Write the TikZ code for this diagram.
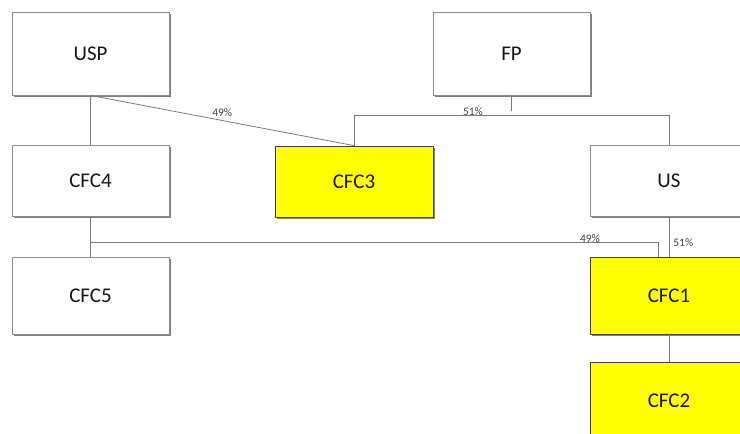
\documentclass[tikz,border=0pt]{standalone}
\usepackage{fontspec}
\setmainfont{Carlito}
\usetikzlibrary{shadows}
\definecolor{linkgray}{HTML}{7A7A7A}
\definecolor{boxgray}{HTML}{8C8C8C}
\definecolor{cfcyellow}{HTML}{FFFF00}
\definecolor{txtgray}{HTML}{151515}
\tikzset{
  entity/.style={draw=boxgray, fill=white, line width=0.8bp, text=txtgray,
    font=\fontsize{21}{25}\selectfont, inner sep=0pt,
    drop shadow={shadow xshift=1.8bp, shadow yshift=-1.8bp, fill=black!55, opacity=0.9}},
  cfc/.style={entity, draw=black!75, fill=cfcyellow},
  link/.style={draw=linkgray, line width=0.8bp},
  pct/.style={font=\fontsize{11.5}{13}\selectfont, text=black!75, inner sep=1bp}
}
\begin{document}
\begin{tikzpicture}[x=1bp, y=-1bp]
% Ownership chart, one unit = one pixel of the reference
\def\boxw{157bp}
\clip (0,0) rectangle (740,434);
\fill[white] (0,0) rectangle (740,434);
% Entities
\node[entity, minimum width=\boxw, minimum height=83bp] (usp) at (90.5,53.5) {USP};
\node[entity, minimum width=\boxw, minimum height=83bp] (fp) at (511.5,53.5) {FP};
\node[entity, minimum width=\boxw, minimum height=71bp] (cfcfour) at (90.5,180.5) {CFC4};
\node[cfc, minimum width=158bp, minimum height=71bp] (cfcthree) at (354,181.5) {CFC3};
\node[entity, minimum width=158bp, minimum height=71bp] (us) at (669,180.5) {US};
\node[entity, minimum width=\boxw, minimum height=77bp] (cfcfive) at (90.5,295.5) {CFC5};
\node[cfc, minimum width=158bp, minimum height=77bp] (cfcone) at (669,295.5) {CFC1};
\node[cfc, minimum width=158bp, minimum height=77bp] (cfctwo) at (669,400.5) {CFC2};
% Bars
\coordinate (fpbar) at (512,115);
\coordinate (cfcbar) at (0,242.5);
% Connectors
\draw[link] (usp.south) -- (cfcfour.north);
\draw[link] (cfcfour.south) -- (cfcfive.north);
\draw[link] (usp.south) -- (cfcthree.north) node[pct, midway, above=3bp] (lblusp) {49\%};
\draw[link] (fp.south) -- ([yshift=4bp]fp.south |- fpbar);
\draw[link] (cfcthree.north) -- (cfcthree.north |- fpbar) -- (us.north |- fpbar) -- (us.north);
\node[pct, anchor=south east] (lblfp) at ([xshift=-28bp, yshift=-2bp]fpbar) {51\%};
\draw[link] (us.south) -- (cfcone.north) node[pct, midway, right=3bp, yshift=-6bp] (lblus) {51\%};
\draw[link] (cfcfour.south |- cfcbar) -- ([xshift=-11bp]cfcone.north |- cfcbar) -- ([xshift=-11bp]cfcone.north);
\node[pct, anchor=south east] (lblcfc) at ([xshift=-68bp, yshift=-1bp]cfcone.north |- cfcbar) {49\%};
\draw[link] (cfcone.south) -- (cfctwo.north);
\end{tikzpicture}
\end{document}
